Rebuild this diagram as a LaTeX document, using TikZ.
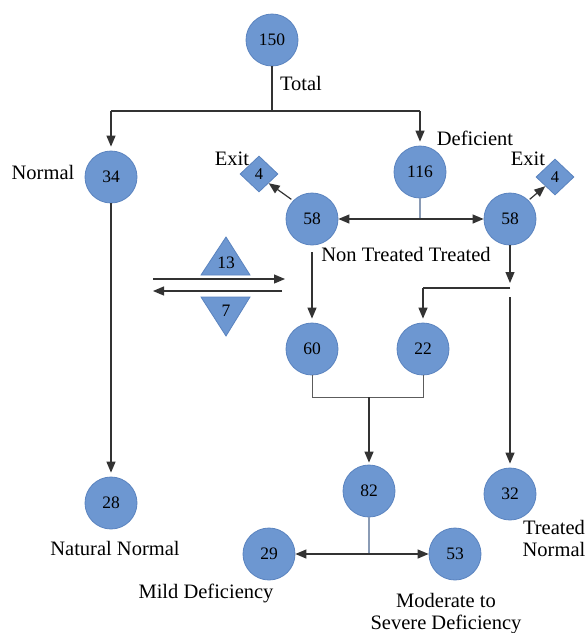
\documentclass[tikz,border=0pt]{standalone}
\usepackage{fontspec}
\setmainfont{Liberation Serif}
\usetikzlibrary{arrows.meta,shapes.geometric}
\definecolor{cfill}{HTML}{6D97D1}
\definecolor{cdraw}{HTML}{5A83BF}
\definecolor{cline}{HTML}{333333}
\definecolor{cpale}{HTML}{8A9BB5}
\tikzset{
  circ/.style={circle,fill=cfill,draw=cdraw,line width=0.8pt,minimum size=52pt,inner sep=0pt,font=\fontsize{17.5}{17.5}\selectfont},
  dia/.style={diamond,fill=cfill,draw=cdraw,line width=0.8pt,minimum width=38pt,minimum height=36pt,inner sep=0pt,font=\fontsize{16.5}{16.5}\selectfont},
  tri/.style={fill=cfill,draw=cdraw,line width=0.8pt},
  lbl/.style={font=\fontsize{20.5}{22}\selectfont,inner sep=0pt,align=center},
  num/.style={font=\fontsize{17.5}{17.5}\selectfont,inner sep=0pt},
  ln/.style={draw=cline,line width=1.2pt},
  pale/.style={draw=cpale,line width=1.2pt},
  arr/.style={ln,-{Triangle[length=11pt,width=9pt]}},
  darr/.style={ln,{Triangle[length=11pt,width=9pt]}-{Triangle[length=11pt,width=9pt]}}
}
\begin{document}
\begin{tikzpicture}[x=1pt,y=-1pt]
\useasboundingbox[fill=white] (0,0) rectangle (588,633);
% nodes
\node[circ] (n150) at (272,40) {150};
\node[circ] (n34) at (111,177) {34};
\node[circ] (n116) at (420,172) {116};
\node[circ] (n58l) at (312,219) {58};
\node[circ] (n58r) at (510,219) {58};
\node[dia] (d4l) at (259,174) {4};
\node[dia] (d4r) at (555,177) {4};
\node[circ] (n60) at (312,349) {60};
\node[circ] (n22) at (423,349) {22};
\node[circ] (n82) at (369,491) {82};
\node[circ] (n28) at (111,503) {28};
\node[circ] (n32) at (510,494) {32};
\node[circ] (n29) at (269,554) {29};
\node[circ] (n53) at (455,554) {53};
% labels
\node[lbl] (lTotal) at (301,83) {Total};
\node[lbl] (lNormal) at (43,172) {Normal};
\node[lbl] (lDef) at (475,138) {Deficient};
\node[lbl] (lExitL) at (232,159) {Exit};
\node[lbl] (lExitR) at (528,159) {Exit};
\node[lbl] (lNT) at (406,254) {Non Treated Treated};
\node[lbl] (lNat) at (115,548) {Natural Normal};
\node[lbl] (lMild) at (206,593) {Mild Deficiency};
\node[lbl] (lMod) at (446,614) {Moderate to\\Severe Deficiency};
\node[lbl] (lTN) at (554,538) {Treated\\Normal};
% triangles
\path[tri] (201,275) -- (250,275) -- (226,237) -- cycle;
\node[num] (t13) at (226,263) {13};
\path[tri] (201,297) -- (250,297) -- (226,336) -- cycle;
\node[num] (t7) at (226,311) {7};
\coordinate (a1s) at (153,279);
\coordinate (a1e) at (285,279);
\coordinate (a2s) at (282,291);
\coordinate (a2e) at (153,291);
\draw[arr] (a1s) -- (a1e);
\draw[arr] (a2s) -- (a2e);
% top split
\coordinate (tj) at (272,111);
\coordinate (tl) at (111,111);
\coordinate (tr) at (420,111);
\draw[ln] (n150.south) -- (tj);
\draw[ln] (tl) -- (tr);
\draw[arr,shorten >=4pt] (tl) -- (n34.north);
\draw[arr,shorten >=4pt] (tr) -- (n116.north);
\draw[arr,shorten >=4pt] (n34.south) -- (n28.north);
% deficient split
\coordinate (dj) at (420,219);
\draw[pale] (n116.south) -- (dj);
\draw[darr] (n58l.east) -- (n58r.west);
\draw[arr] (n58l.north west) ++(-2,-1) -- (d4l.south east);
\draw[arr] (n58r.north east) ++(1,-1) -- (d4r.south west);
% non treated
\draw[arr,shorten <=7pt,shorten >=4pt] (n58l.south) -- (n60.north);
% treated
\coordinate (rj) at (510,283);
\coordinate (rh) at (510,288);
\coordinate (rl) at (423,288);
\coordinate (rv) at (510,297);
\draw[arr] (n58r.south) -- (rj);
\draw[ln] (rh) -- (rl);
\draw[arr,shorten >=4pt] (rl) -- (n22.north);
\draw[arr,shorten >=4pt] (rv) -- (n32.north);
% merge
\coordinate (m1) at (312,397);
\coordinate (m2) at (423,397);
\coordinate (mj) at (369,397);
\draw[draw=cline!80,line width=1pt] (n60.south) -- (m1) -- (m2) -- (n22.south);
\draw[arr,shorten >=2pt] (mj) -- (n82.north);
% final split
\coordinate (fj) at (369,554);
\draw[pale] (n82.south) -- (fj);
\draw[darr] (n29.east) -- (n53.west);
\end{tikzpicture}
\end{document}
